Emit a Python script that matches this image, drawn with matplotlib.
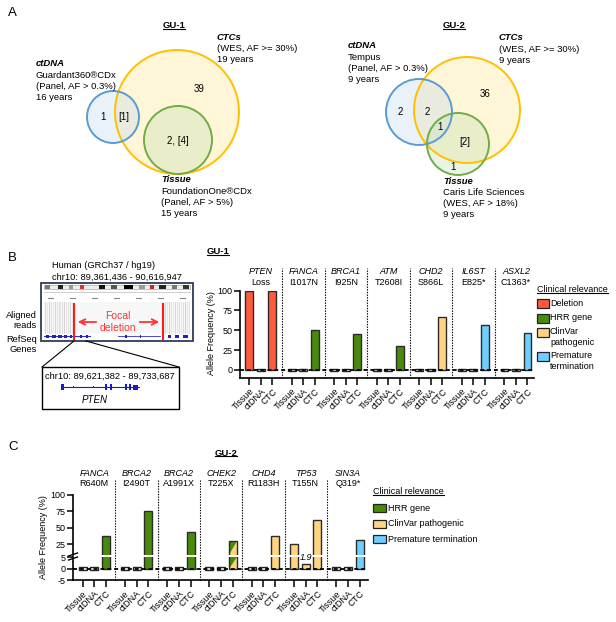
import numpy as np
import matplotlib
matplotlib.use('Agg')
import matplotlib.pyplot as plt
from matplotlib.patches import Circle, Rectangle, Polygon

plt.rcParams['font.family'] = ['Liberation Sans', 'DejaVu Sans']
plt.rcParams['axes.unicode_minus'] = False

W, H = 616, 622

# ---------------- data ----------------
samples = ['Tissue', 'ctDNA', 'CTC']

gu1_genes = ['PTEN', 'FANCA', 'BRCA1', 'ATM', 'CHD2', 'IL6ST', 'ASXL2']
gu1_muts = ['Loss', 'I1017N', 'I925N', 'T2608I', 'S866L', 'E825*', 'C1363*']
gu1_tissue = [100, 0, 0, 0, 0, 0, 0]
gu1_ctdna = [0, 0, 0, 0, 0, 0, 0]
gu1_ctc = [100, 50, 45, 30, 67, 57, 46]
gu1_class = ['del', 'hrr', 'hrr', 'hrr', 'clinvar', 'prem', 'prem']

gu2_genes = ['FANCA', 'BRCA2', 'BRCA2', 'CHEK2', 'CHD4', 'TP53', 'SIN3A']
gu2_muts = ['R640M', 'I2490T', 'A1991X', 'T225X', 'R1183H', 'T155N', 'Q319*']
gu2_tissue = [0, 0, 0, 0, 0, 25, 0]
gu2_ctdna = [0, 0, 0, 0, 0, 1.9, 0]
gu2_ctc = [37, 75, 43, 30, 37, 62, 32]
gu2_class = ['hrr', 'hrr', 'hrr', 'hrr+clinvar', 'clinvar', 'clinvar', 'prem']

colors = {'del': '#FF5A3C', 'hrr': '#4A8A0A', 'clinvar': '#FFD37F', 'prem': '#6DCFFF'}
legend_b = [('del', ['Deletion']), ('hrr', ['HRR gene']),
            ('clinvar', ['ClinVar', 'pathogenic']), ('prem', ['Premature', 'termination'])]
legend_c = [('hrr', 'HRR gene'), ('clinvar', 'ClinVar pathogenic'), ('prem', 'Premature termination')]

# venn region counts
gu1_counts = ['1', '[1]', '39', '2, [4]']
gu2_counts = ['2', '2', '36', '1', '[2]', '1']

EDGE = '#2b2b2b'
FS = 6.5


def px_rect(l, t, r, b):
    return [l / W, 1 - b / H, (r - l) / W, (b - t) / H]


fig = plt.figure(figsize=(W / 100, H / 100), dpi=100)
ov = fig.add_axes([0, 0, 1, 1])
ov.set_xlim(0, W)
ov.set_ylim(H, 0)
ov.axis('off')

to_underline = []

# ---------------- panel letters ----------------
for lab, x, y in [('A', 8, 13), ('B', 8, 258), ('C', 8, 447)]:
    ov.text(x, y, lab, fontsize=9.5, va='center', ha='left')


# ---------------- panel A: venn ----------------
def venn(circles):
    fills = {'y': ('#FFE9A8', 0.45, '#FFC000'), 'b': ('#BDD7EE', 0.32, '#5B9BD5'),
             'g': ('#C5E0B4', 0.35, '#70AD47')}
    for key, (cx, cy, r) in circles:
        fc, a, ec = fills[key]
        ov.add_patch(Circle((cx, cy), r, facecolor=fc, alpha=a, edgecolor='none'))
    for key, (cx, cy, r) in circles:
        fc, a, ec = fills[key]
        ov.add_patch(Circle((cx, cy), r, facecolor='none', edgecolor=ec, lw=1.4))


def label_lines(x, y0, dy, items, fs=6.8):
    for k, (s, bold) in enumerate(items):
        ov.text(x, y0 + k * dy, s, fontsize=fs, ha='left', va='center',
                fontweight='bold' if bold else 'normal', style='italic' if bold else 'normal')


venn([('y', (177, 112, 62)), ('b', (113, 117, 26)), ('g', (178, 140, 34))])
for s, (x, y) in zip(gu1_counts, [(103, 117), (124, 117), (199, 89), (178, 141)]):
    ov.text(x, y, s, fontsize=7, ha='center', va='center')
to_underline.append(ov.text(174, 26, 'GU-1', fontsize=6.8, fontweight='bold', ha='center', va='center'))
label_lines(36, 64, 11.3, [('ctDNA', True), ('Guardant360®CDx', False),
                           ('(Panel, AF > 0.3%)', False), ('16 years', False)])
label_lines(217, 37, 11.3, [('CTCs', True), ('(WES, AF >= 30%)', False), ('19 years', False)])
label_lines(161, 180, 11.3, [('Tissue', True), ('FoundationOne®CDx', False),
                             ('(Panel, AF > 5%)', False), ('15 years', False)])

venn([('y', (467, 110, 53)), ('b', (419, 112, 33)), ('g', (458, 144, 31))])
for s, (x, y) in zip(gu2_counts, [(400, 112), (427, 112), (485, 94), (440, 127), (465, 142), (453, 167)]):
    ov.text(x, y, s, fontsize=7, ha='center', va='center')
to_underline.append(ov.text(454, 26, 'GU-2', fontsize=6.8, fontweight='bold', ha='center', va='center'))
label_lines(348, 46, 11.3, [('ctDNA', True), ('Tempus', False),
                            ('(Panel, AF > 0.3%)', False), ('9 years', False)])
label_lines(499, 38, 11.3, [('CTCs', True), ('(WES, AF >= 30%)', False), ('9 years', False)])
label_lines(443, 181, 11.3, [('Tissue', True), ('Caris Life Sciences', False),
                             ('(WES, AF > 18%)', False), ('9 years', False)])

# ---------------- panel B: IGV schematic ----------------
ov.text(52, 266, 'Human (GRCh37 / hg19)', fontsize=6.7, ha='left', va='center')
ov.text(52, 277, 'chr10: 89,361,436 - 90,616,947', fontsize=6.7, ha='left', va='center')
for s, y in [('Aligned', 315), ('reads', 326), ('RefSeq', 339), ('Genes', 350)]:
    ov.text(37, y, s, fontsize=6.7, ha='right', va='center')

ov.add_patch(Rectangle((41, 283), 152, 58, facecolor='white', edgecolor='#3F4A62', lw=1.4, zorder=2))
ideo_bands = [(45, 50, '#777'), (58, 63, '#222'), (69, 73, '#999'), (80, 84, '#E03030'),
              (99, 105, '#111'), (111, 117, '#555'), (124, 133, '#000'), (139, 145, '#999'),
              (150, 154, '#D02020'), (159, 166, '#222'), (172, 177, '#777'), (183, 189, '#333')]
ov.add_patch(Rectangle((44, 285), 146, 3.5, facecolor='#EEEEEE', edgecolor='#999', lw=0.4, zorder=3))
for x0, x1, c in ideo_bands:
    ov.add_patch(Rectangle((x0, 285), x1 - x0, 3.5, facecolor=c, edgecolor='none', zorder=3))
ov.plot([44, 190], [292, 292], color='#BBBBBB', lw=0.5, zorder=3)
for xt in np.arange(48, 190, 22):
    ov.plot([xt, xt + 5], [298, 298], color='#888888', lw=0.8, zorder=3)
ov.add_patch(Rectangle((44, 302), 146, 31, facecolor='#F7F7F7', edgecolor='none', zorder=2.5))
read_shade = [0.55, 0.3, 0.7, 0.4, 0.25, 0.6, 0.35, 0.5, 0.2, 0.45, 0.65, 0.3, 0.4, 0.55, 0.25]
for k, xr in enumerate(np.linspace(45, 72, 15)):
    ov.plot([xr, xr], [302, 333], color='#B8B8B8', alpha=read_shade[k], lw=0.6, zorder=3)
for k, xr in enumerate(np.linspace(165, 189, 13)):
    ov.plot([xr, xr], [302, 333], color='#B8B8B8', alpha=read_shade[k], lw=0.6, zorder=3)
ov.plot([44, 90], [336, 336], color='#3030C8', lw=0.8, zorder=3)
ov.plot([118, 160], [336, 336], color='#3030C8', lw=0.6, zorder=3)
gene_blobs = [(46, 49), (52, 56), (58, 62), (64, 67), (70, 72), (80, 82), (86, 88),
              (125, 127), (140, 141), (168, 171), (175, 179), (183, 188)]
for x0, x1 in gene_blobs:
    ov.add_patch(Rectangle((x0, 334.5), x1 - x0, 3, facecolor='#2020C0', edgecolor='none', zorder=3))
for xl in (74, 163):
    ov.plot([xl, xl], [304, 339], color='#FF1A1A', lw=1.5, zorder=4)
ov.text(118, 316, 'Focal', color='#FF3333', fontsize=7.5, ha='center', va='center', zorder=4)
ov.text(118, 328, 'deletion', color='#FF3333', fontsize=7.5, ha='center', va='center', zorder=4)
ov.annotate('', xy=(75, 322), xytext=(99, 322),
            arrowprops=dict(arrowstyle='->', color='#FF3333', lw=1.3), zorder=4)
ov.annotate('', xy=(162, 322), xytext=(137, 322),
            arrowprops=dict(arrowstyle='->', color='#FF3333', lw=1.3), zorder=4)

# callout
ov.plot([74, 42], [341, 367], color='k', lw=0.8)
ov.plot([86, 179], [341, 367], color='k', lw=0.8)
ov.add_patch(Rectangle((42, 367), 137, 42, facecolor='white', edgecolor='k', lw=1.0))
ov.text(110, 376, 'chr10: 89,621,382 - 89,733,687', fontsize=6.7, ha='center', va='center')
ov.plot([61, 139], [387, 387], color='#1A1ACC', lw=0.8)
exons = [(61, 64, 6), (72.5, 73.5, 2), (93, 94, 2), (105, 107, 6), (110, 112, 6),
         (125, 127, 6), (129, 131, 6), (133, 138, 5)]
for x0, x1, h in exons:
    ov.add_patch(Rectangle((x0, 387 - h / 2), x1 - x0, h, facecolor='#1A1ACC', edgecolor='none'))
ov.text(95, 400, 'PTEN', fontsize=7, style='italic', ha='center', va='center')


# ---------------- bar chart helpers ----------------
def style_ax(ax, bottom=True):
    ax.set_facecolor('none')
    for sp in ['top', 'right']:
        ax.spines[sp].set_visible(False)
    ax.spines['left'].set_linewidth(1.2)
    ax.spines['bottom'].set_linewidth(1.2)
    if not bottom:
        ax.spines['bottom'].set_visible(False)
    ax.tick_params(axis='y', length=4, width=1.1, labelsize=FS, pad=1.5)
    ax.tick_params(axis='x', length=5, width=1.1, labelsize=FS, pad=1.5)


def draw_bars(ax, tissue, ctdna, ctc, classes, pitch, zero_half):
    ylo, yhi = ax.get_ylim()
    w = 0.68
    for i in range(7):
        for j, v in enumerate([tissue[i], ctdna[i], ctc[i]]):
            x = i * pitch + j
            if v == 0:
                ax.bar(x, 2 * zero_half, bottom=-zero_half, width=w, color='white',
                       edgecolor='#222222', lw=1.0, zorder=3)
                continue
            cls = classes[i]
            if '+' in cls:
                c1, c2 = cls.split('+')
                ax.bar(x, v, width=w, color=colors[c1], edgecolor='none', zorder=3)
                y0 = max(ylo, 0)
                y1 = min(yhi, v)
                if y1 > y0:
                    ax.add_patch(Polygon([(x + w / 2, y1), (x + w / 2, y0), (x - w / 2, y0)],
                                         closed=True, facecolor=colors[c2], edgecolor='none', zorder=3.2))
                ax.bar(x, v, width=w, color='none', edgecolor=EDGE, lw=1.0, zorder=3.5)
            else:
                ax.bar(x, v, width=w, color=colors[cls], edgecolor=EDGE, lw=1.0, zorder=3)


# ---------------- panel B bar chart ----------------
pitch_b = 3.7
axb = fig.add_axes(px_rect(240, 290.7, 534, 377.7))
axb.set_xlim(-0.8, 24.77)
axb.set_ylim(-10, 100)
style_ax(axb)
draw_bars(axb, gu1_tissue, gu1_ctdna, gu1_ctc, gu1_class, pitch_b, 1.6)
axb.axhline(0, color='k', ls=(0, (2.2, 1.6)), lw=1.3, zorder=5)
axb.set_yticks([0, 25, 50, 75, 100])
pos_b = [i * pitch_b + j for i in range(7) for j in range(3)]
axb.set_xticks(pos_b)
axb.set_xticklabels(samples * 7, rotation=45, ha='right', rotation_mode='anchor')
for i in range(6):
    axb.axvline(i * pitch_b + 2 + (pitch_b - 2) / 2, ymin=0, ymax=1.26, color='k',
                ls=(0, (1.2, 1.2)), lw=0.8, clip_on=False, zorder=1)
for i in range(7):
    axb.text(i * pitch_b + 1, 1.215, gu1_genes[i], transform=axb.get_xaxis_transform(),
             fontsize=FS, style='italic', ha='center', va='center')
    axb.text(i * pitch_b + 1, 1.089, gu1_muts[i], transform=axb.get_xaxis_transform(),
             fontsize=FS, ha='center', va='center')
ov.text(211, 333, 'Allele Frequency (%)', rotation=90, fontsize=FS, ha='center', va='center')
to_underline.append(ov.text(218, 252, 'GU-1', fontsize=6.8, fontweight='bold', ha='center', va='center'))

to_underline.append(ov.text(537, 290, 'Clinical relevance', fontsize=FS, ha='left', va='center'))
for (cls, txt), yc in zip(legend_b, [303.5, 318, 332, 356]):
    ov.add_patch(Rectangle((537, yc - 4.5), 11.5, 9, facecolor=colors[cls], edgecolor='#222', lw=0.9))
    for k, s in enumerate(txt):
        ov.text(550, yc - 1 + k * 11.3 if len(txt) > 1 else yc, s, fontsize=FS, ha='left', va='center')

# ---------------- panel C bar chart (broken axis) ----------------
pitch_c = 3.6
axc_top = fig.add_axes(px_rect(73, 495, 368, 554.7))
axc_bot = fig.add_axes(px_rect(73, 557.3, 368, 580))
for ax in (axc_top, axc_bot):
    ax.set_xlim(-0.81, 24.3)
axc_top.set_ylim(9.2, 100)
axc_bot.set_ylim(-5, 5)
style_ax(axc_top, bottom=False)
style_ax(axc_bot)
for ax in (axc_top, axc_bot):
    draw_bars(ax, gu2_tissue, gu2_ctdna, gu2_ctc, gu2_class, pitch_c, 0.55)
axc_top.set_yticks([25, 50, 75, 100])
axc_top.set_xticks([])
axc_bot.set_yticks([-5, 0, 5])
axc_bot.axhline(0, color='k', ls=(0, (2.2, 1.6)), lw=1.3, zorder=5)
pos_c = [i * pitch_c + j for i in range(7) for j in range(3)]
axc_bot.set_xticks(pos_c)
axc_bot.set_xticklabels(samples * 7, rotation=45, ha='right', rotation_mode='anchor')
for i in range(6):
    axc_bot.axvline(i * pitch_c + 2 + (pitch_c - 2) / 2, ymin=0, ymax=4.405, color='k',
                    ls=(0, (1.2, 1.2)), lw=0.8, clip_on=False, zorder=1)
for i in range(7):
    axc_bot.text(i * pitch_c + 1, 4.71, gu2_genes[i], transform=axc_bot.get_xaxis_transform(),
                 fontsize=FS, style='italic', ha='center', va='center')
    axc_bot.text(i * pitch_c + 1, 4.27, gu2_muts[i], transform=axc_bot.get_xaxis_transform(),
                 fontsize=FS, ha='center', va='center')
tp = gu2_genes.index('TP53')
axc_bot.annotate(f'{gu2_ctdna[tp]:g}', (tp * pitch_c + 1, gu2_ctdna[tp]), xytext=(0, 1.5),
                 textcoords='offset points', fontsize=FS, style='italic', ha='center', va='bottom',
                 annotation_clip=False, zorder=6)
# break marks on y axis
for yb in (554.5, 558.5):
    ov.plot([68.5, 77.5], [yb + 1.5, yb - 1.5], color='k', lw=1.0)
ov.text(44, 537, 'Allele Frequency (%)', rotation=90, fontsize=FS, ha='center', va='center')
to_underline.append(ov.text(226, 453, 'GU-2', fontsize=6.8, fontweight='bold', ha='center', va='center'))

to_underline.append(ov.text(373, 491.7, 'Clinical relevance', fontsize=FS, ha='left', va='center'))
for (cls, txt), yc in zip(legend_c, [508.3, 524, 539.3]):
    ov.add_patch(Rectangle((373.3, yc - 4), 12.4, 8, facecolor=colors[cls], edgecolor='#222', lw=0.9))
    ov.text(387.5, yc, txt, fontsize=FS, ha='left', va='center')

# underline titles
fig.canvas.draw()
renderer = fig.canvas.get_renderer()
inv = ov.transData.inverted()
for t in to_underline:
    bb = t.get_window_extent(renderer)
    (x0, y0), (x1, _) = inv.transform([(bb.x0, bb.y0 + 1.5), (bb.x1, bb.y0 + 1.5)])
    ov.plot([x0, x1], [y0, y0], color='k', lw=0.8)

fig.savefig('out.png', dpi=100)
